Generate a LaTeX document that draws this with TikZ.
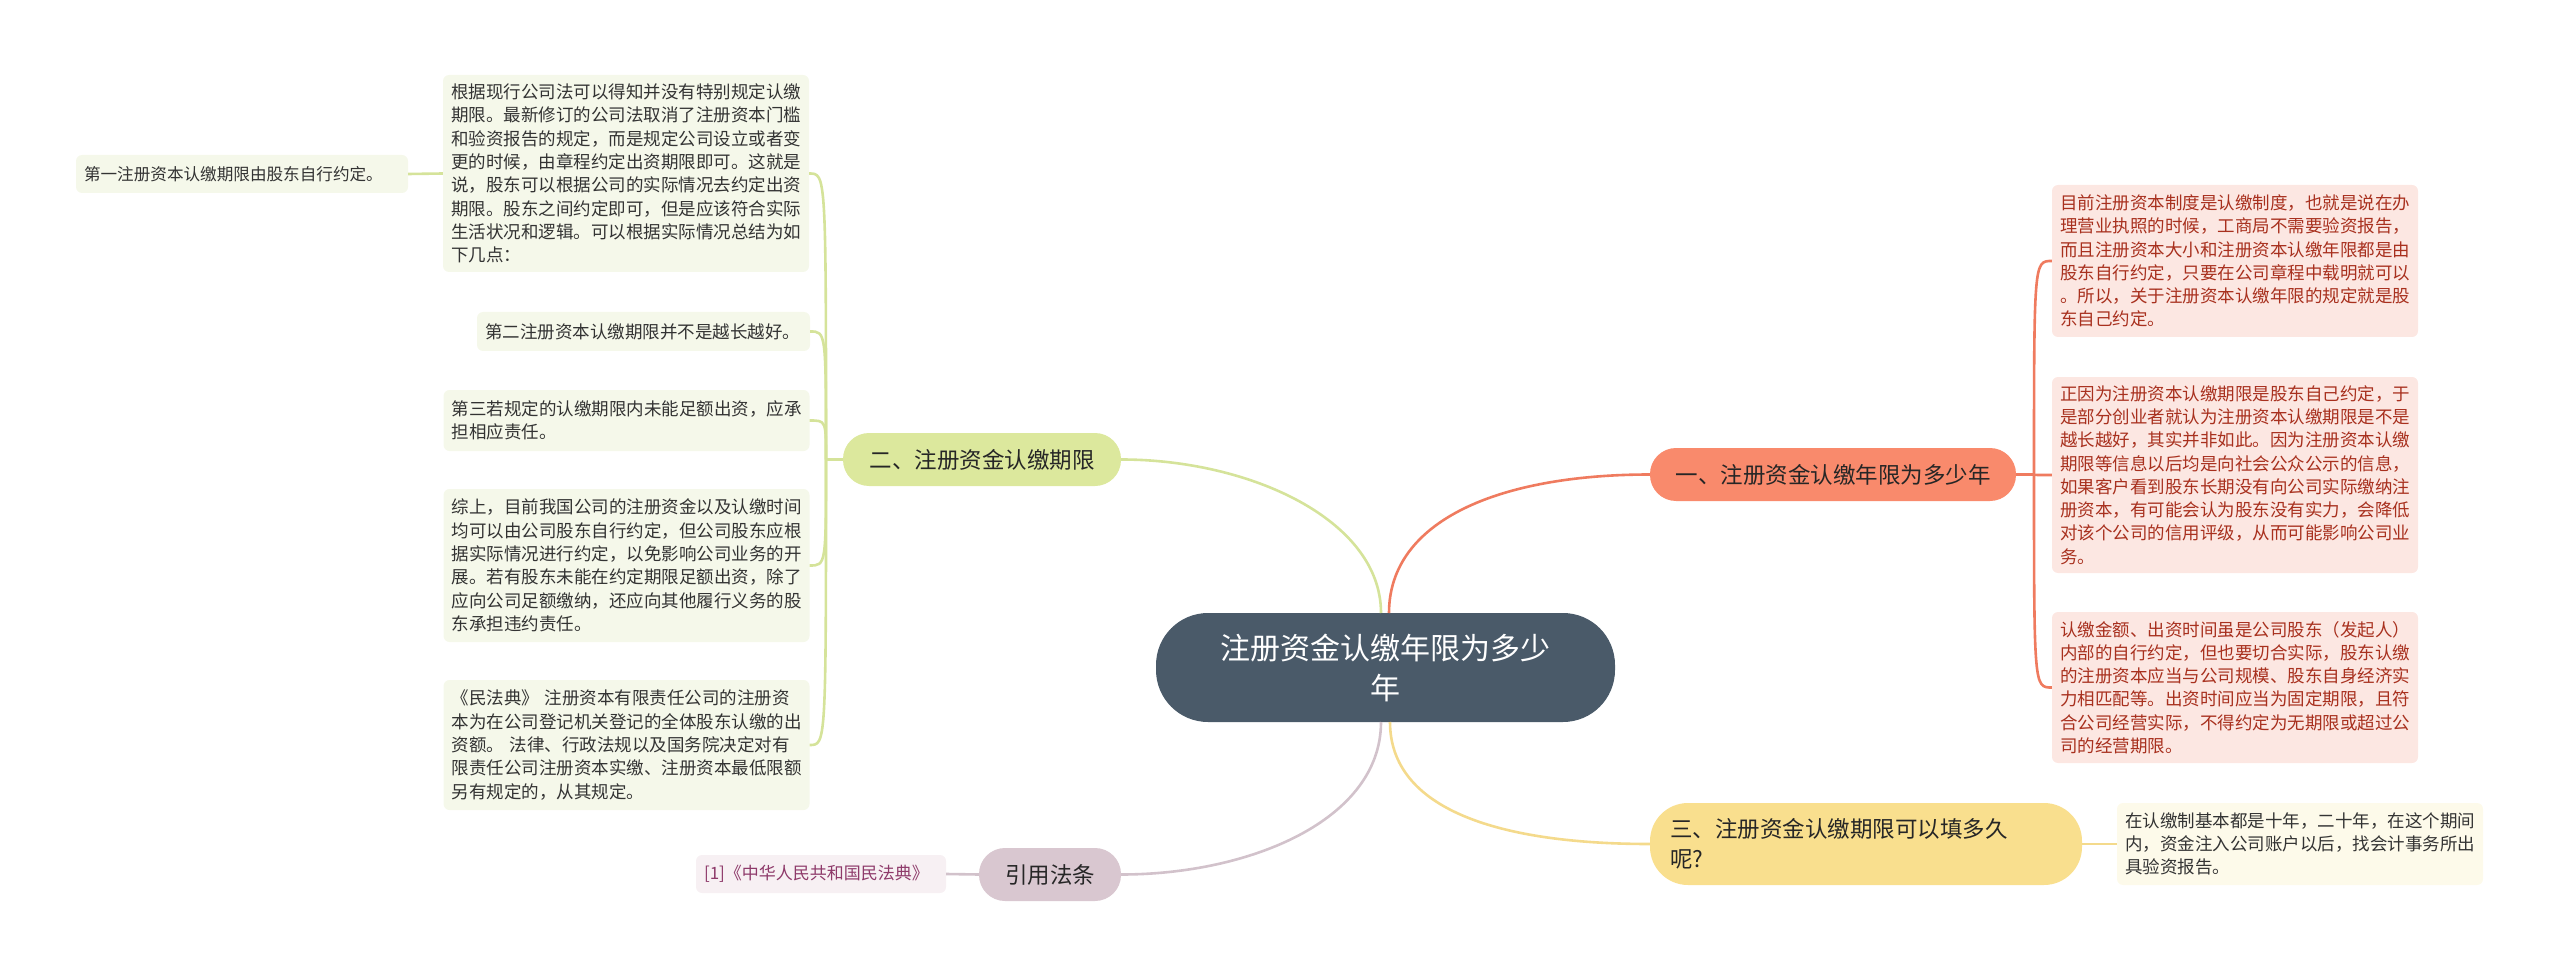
\documentclass[tikz,border=0pt]{standalone}
\usepackage{fontspec}
\setmainfont{Noto Sans CJK SC}
\definecolor{cen}{HTML}{4A5A69}
\definecolor{b1f}{HTML}{F98A6C}\definecolor{b1l}{HTML}{EF7B5F}
\definecolor{b2f}{HTML}{DCE89D}\definecolor{b2l}{HTML}{D5E39A}
\definecolor{b3f}{HTML}{F9DF8E}\definecolor{b3l}{HTML}{F4DA8C}
\definecolor{b4f}{HTML}{D9C7D0}\definecolor{b4l}{HTML}{D2C2CB}
\definecolor{rbf}{HTML}{FCE7E2}\definecolor{rbt}{HTML}{A8301E}
\definecolor{lbf}{HTML}{F5F8EA}\definecolor{lbt}{HTML}{333333}
\definecolor{l3f}{HTML}{FDFAEA}
\definecolor{l4f}{HTML}{F7F0F3}\definecolor{l4t}{HTML}{8E3A6A}
\tikzset{
 leafbox/.style={rounded corners=6pt,inner xsep=8pt,inner ysep=0pt,align=left,
   font=\fontsize{17.5}{23.3}\selectfont,text width=350pt},
 branchbox/.style={rounded corners=26pt,inner sep=0pt,font=\fontsize{22.5}{30}\selectfont,text=black!85},
 conn/.style={line width=2.6pt}
}
\begin{document}
\begin{tikzpicture}[x=1pt,y=-1pt]
\useasboundingbox (0,0) rectangle (2560,976);
% center
\node[fill=cen,rounded corners=52pt,minimum width=459pt,minimum height=109pt,inner sep=0pt,
  text=white,align=center,font=\fontsize{30}{40}\selectfont] (c) at (1385.5,667.5) {注册资金认缴年限为多少\\年};
% branches
\node[branchbox,fill=b1f,minimum width=366pt,minimum height=53pt] (b1) at (1833,474.5) {一、注册资金认缴年限为多少年};
\node[branchbox,fill=b2f,minimum width=278pt,minimum height=53pt] (b2) at (982,459.5) {二、注册资金认缴期限};
\node[branchbox,fill=b3f,rounded corners=38pt,minimum width=432pt,minimum height=82pt,align=left,text width=392pt,inner xsep=20pt] (b3) at (1866,844) {三、注册资金认缴期限可以填多久\\呢?};
\node[branchbox,fill=b4f,minimum width=142pt,minimum height=53pt] (b4) at (1050,874.5) {引用法条};
% right boxes
\node[leafbox,fill=rbf,text=rbt,minimum height=152pt] (r1) at (2235,261) {目前注册资本制度是认缴制度，也就是说在办\\理营业执照的时候，工商局不需要验资报告，\\而且注册资本大小和注册资本认缴年限都是由\\股东自行约定，只要在公司章程中载明就可以\\。所以，关于注册资本认缴年限的规定就是股\\东自己约定。};
\node[leafbox,fill=rbf,text=rbt,minimum height=196pt] (r2) at (2235,475) {正因为注册资本认缴期限是股东自己约定，于\\是部分创业者就认为注册资本认缴期限是不是\\越长越好，其实并非如此。因为注册资本认缴\\期限等信息以后均是向社会公众公示的信息，\\如果客户看到股东长期没有向公司实际缴纳注\\册资本，有可能会认为股东没有实力，会降低\\对该个公司的信用评级，从而可能影响公司业\\务。};
\node[leafbox,fill=rbf,text=rbt,minimum height=151pt] (r3) at (2235,687.5) {认缴金额、出资时间虽是公司股东（发起人）\\内部的自行约定，但也要切合实际，股东认缴\\的注册资本应当与公司规模、股东自身经济实\\力相匹配等。出资时间应当为固定期限，且符\\合公司经营实际，不得约定为无期限或超过公\\司的经营期限。};
\node[leafbox,fill=l3f,text=lbt,minimum height=82pt] (l3) at (2300,844) {在认缴制基本都是十年，二十年，在这个期间\\内，资金注入公司账户以后，找会计事务所出\\具验资报告。};
% left boxes
\node[leafbox,fill=lbf,text=lbt,minimum height=197pt] (la) at (626,173.5) {根据现行公司法可以得知并没有特别规定认缴\\期限。最新修订的公司法取消了注册资本门槛\\和验资报告的规定，而是规定公司设立或者变\\更的时候，由章程约定出资期限即可。这就是\\说，股东可以根据公司的实际情况去约定出资\\期限。股东之间约定即可，但是应该符合实际\\生活状况和逻辑。可以根据实际情况总结为如\\下几点：};
\node[leafbox,fill=lbf,text=lbt,minimum height=39pt,text width=317pt] (lb) at (643.5,331.5) {第二注册资本认缴期限并不是越长越好。};
\node[leafbox,fill=lbf,text=lbt,minimum height=61pt] (lc) at (626.5,420.5) {第三若规定的认缴期限内未能足额出资，应承\\担相应责任。};
\node[leafbox,fill=lbf,text=lbt,minimum height=153pt] (ld) at (626.5,565.5) {综上，目前我国公司的注册资金以及认缴时间\\均可以由公司股东自行约定，但公司股东应根\\据实际情况进行约定，以免影响公司业务的开\\展。若有股东未能在约定期限足额出资，除了\\应向公司足额缴纳，还应向其他履行义务的股\\东承担违约责任。};
\node[leafbox,fill=lbf,text=lbt,minimum height=130pt] (le) at (626.5,745) {《民法典》 注册资本有限责任公司的注册资\\本为在公司登记机关登记的全体股东认缴的出\\资额。 法律、行政法规以及国务院决定对有\\限责任公司注册资本实缴、注册资本最低限额\\另有规定的，从其规定。};
\node[leafbox,fill=lbf,text=lbt,minimum height=38pt,text width=316pt,font=\fontsize{16.6}{22}\selectfont] (lf) at (242,174) {第一注册资本认缴期限由股东自行约定。};
\node[leafbox,fill=l4f,text=l4t,minimum height=38pt,text width=234pt,font=\fontsize{17}{22}\selectfont] (l4) at (821,874) {[1]《中华人民共和国民法典》};
% junctions
\coordinate (j1) at (2034,474.5);
\coordinate (j2) at (826,459.5);
% center connectors
\draw[conn,b1l] (1389,613) .. controls (1389,520) and (1500,474.5) .. (b1.west);
\draw[conn,b2l] (1381,613) .. controls (1381,520) and (1250,459.5) .. (b2.east);
\draw[conn,b3l] (1390,722) .. controls (1390,810) and (1500,844) .. (b3.west);
\draw[conn,b4l] (1381,722) .. controls (1381,820) and (1250,874.5) .. (b4.east);
% branch 1
\draw[conn,b1l] (b1.east) -- (j1);
\foreach \n in {r1,r2,r3}{\draw[conn,b1l] (j1) .. controls (j1 |- \n.west) .. (\n.west);}
% branch 2
\draw[conn,b2l] (b2.west) -- (j2);
\foreach \n in {la,lb,lc,ld,le}{\draw[conn,b2l] (j2) .. controls (j2 |- \n.east) .. (\n.east);}
\draw[conn,b2l] (la.west) -- (lf.east);
% branch 3, 4
\draw[conn,b3l] (b3.east) -- (l3.west);
\draw[conn,b4l] (b4.west) -- (l4.east);
\end{tikzpicture}
\end{document}
